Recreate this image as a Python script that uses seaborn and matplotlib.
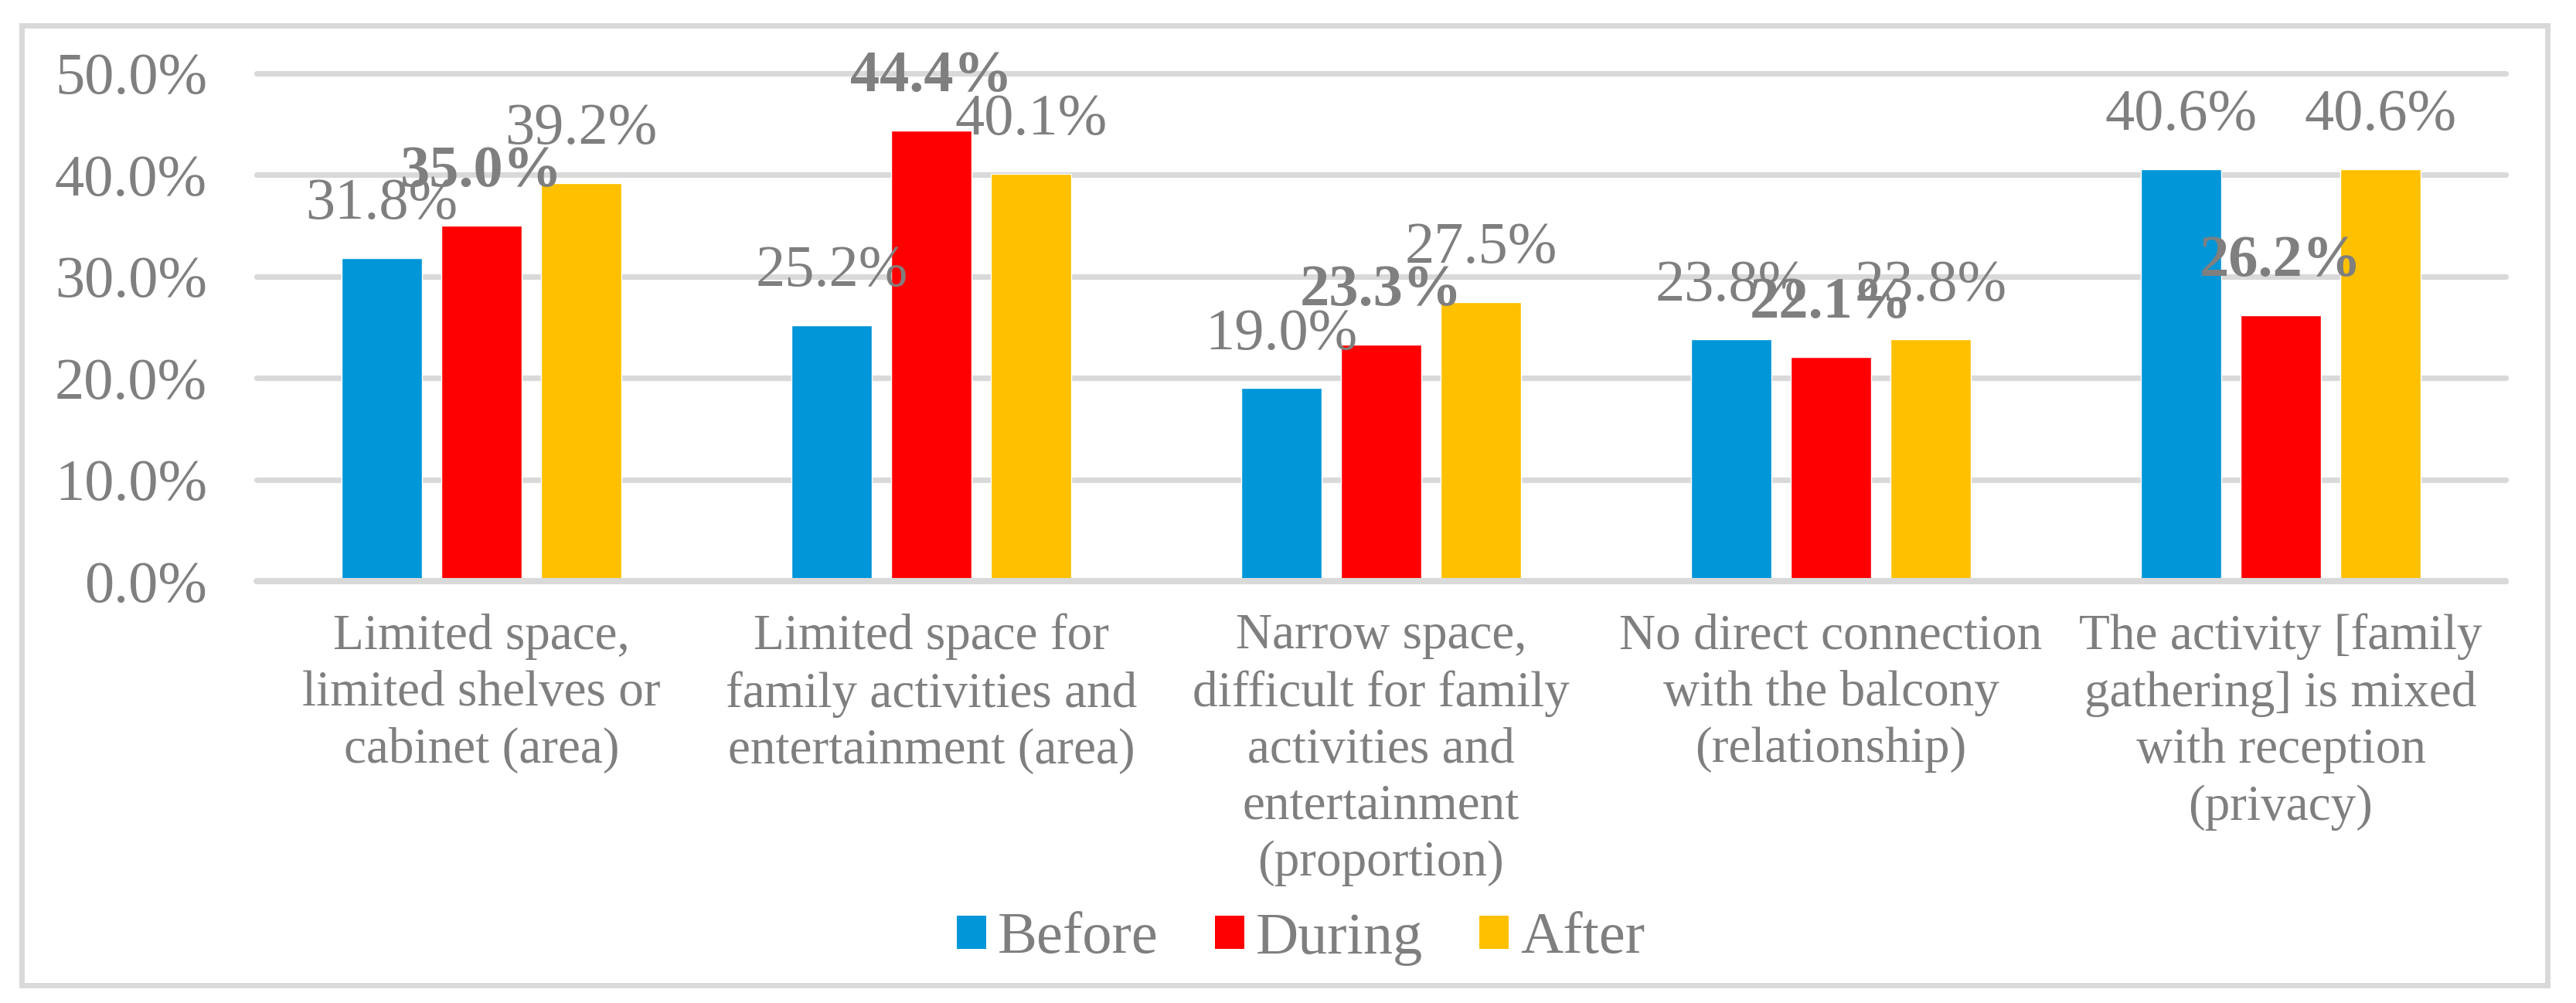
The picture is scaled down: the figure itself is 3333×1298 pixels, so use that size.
import matplotlib
matplotlib.use("Agg")
import matplotlib.pyplot as plt
import seaborn as sns
import pandas as pd
from matplotlib.patches import Rectangle, Patch

categories = [
    "Limited space,\nlimited shelves or\ncabinet (area)",
    "Limited space for\nfamily activities and\nentertainment (area)",
    "Narrow space,\ndifficult for family\nactivities and\nentertainment\n(proportion)",
    "No direct connection\nwith the balcony\n(relationship)",
    "The activity [family\ngathering] is mixed\nwith reception\n(privacy)",
]
series = ["Before", "During", "After"]
before = [31.8, 25.2, 19.0, 23.8, 40.6]
during = [35.0, 44.4, 23.3, 22.1, 26.2]
after = [39.2, 40.1, 27.5, 23.8, 40.6]
yticks = [0, 10, 20, 30, 40, 50]

colors = ["#0096D8", "#FF0000", "#FFC000"]
text_color = "#7F7F7F"
grid_color = "#D9D9D9"

rows = []
for name, vals in zip(series, [before, during, after]):
    for c, v in zip(categories, vals):
        rows.append({"category": c, "period": name, "value": v})
df = pd.DataFrame(rows)

sns.set_theme(style="white")
plt.rcParams["font.family"] = ["Liberation Serif", "DejaVu Serif"]

W, H = 3333, 1298
dpi = 100
fig = plt.figure(figsize=(W / dpi, H / dpi), dpi=dpi)
left, right = 332 / W, 3242 / W
top_px, bot_px = 95, 752
ax = fig.add_axes([left, 1 - bot_px / H, right - left, (bot_px - top_px) / H])

sns.barplot(data=df, x="category", y="value", hue="period", order=categories,
            hue_order=series, palette=colors, width=0.665, gap=0.2,
            saturation=1, ax=ax, legend=False, errorbar=None)

ax.set_xlim(-0.5, 4.5)
ax.set_ylim(0, 50)
ax.set_yticks(yticks)
ax.set_yticklabels([f"{t:.1f}%" for t in yticks])
ax.set_xlabel("")
ax.set_ylabel("")
for s in ax.spines.values():
    s.set_visible(False)
ax.set_axisbelow(True)
ax.yaxis.grid(True, color=grid_color, linewidth=5.2)
for gl in ax.yaxis.get_gridlines():
    gl.set_clip_on(False)
ax.xaxis.grid(False)
ax.axhline(0, color=grid_color, linewidth=5.8, zorder=5, clip_on=False)

ax.tick_params(axis="y", length=0, pad=46, labelsize=55, labelcolor=text_color)
ax.tick_params(axis="x", length=0, pad=30, labelsize=47, labelcolor=text_color)
for lab in ax.get_xticklabels():
    lab.set_linespacing(1.3)
    lab.set_verticalalignment("top")

for i, cont in enumerate(ax.containers):
    vals = [before, during, after][i]
    ax.bar_label(cont, labels=[f"{v:.1f}%" for v in vals], padding=25,
                 fontsize=55, color=text_color,
                 fontweight="bold" if i == 1 else "normal", clip_on=False)

handles = [Patch(facecolor=c, edgecolor="none") for c in colors]
fig.legend(handles, series, loc="center", bbox_to_anchor=(0.505, 1 - 1215 / H),
           ncol=3, frameon=False, fontsize=55, labelcolor=text_color,
           handlelength=0.5, handleheight=0.5, handletextpad=0.2,
           columnspacing=0.95, borderaxespad=0, borderpad=0)

fig.patches.append(Rectangle((28 / W, 1 - 1275 / H), (3296 - 28) / W, (1275 - 33) / H,
                             transform=fig.transFigure, fill=False,
                             edgecolor=grid_color, linewidth=5, zorder=0))

fig.savefig("out.png", dpi=dpi, facecolor="white")
